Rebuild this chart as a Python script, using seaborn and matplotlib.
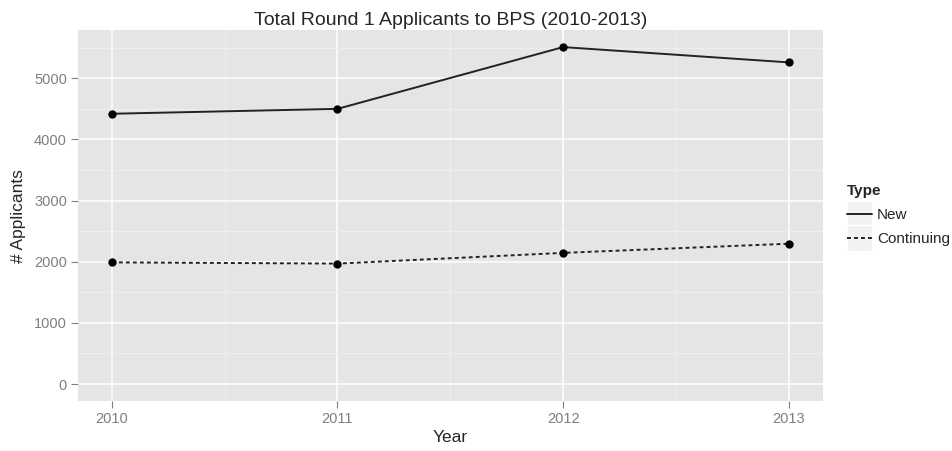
import pandas as pd
import seaborn as sns
import matplotlib.pyplot as plt
from matplotlib.lines import Line2D
from matplotlib.patches import Rectangle
from matplotlib.legend_handler import HandlerLine2D
from matplotlib.ticker import MultipleLocator

years = [2010, 2011, 2012, 2013]
new_applicants = [4420, 4500, 5510, 5260]
continuing_applicants = [1990, 1970, 2145, 2295]
types = ['New', 'Continuing']

df = pd.DataFrame({
    'Year': years * 2,
    'Applicants': new_applicants + continuing_applicants,
    'Type': [types[0]] * len(years) + [types[1]] * len(years),
})


class KeyHandler(HandlerLine2D):
    # grey key box behind the line, ggplot style
    def create_artists(self, legend, orig_handle, xdescent, ydescent, width, height, fontsize, trans):
        extra = 0.5 * fontsize
        box = Rectangle((-xdescent, -ydescent - extra), width, height + ydescent + 2 * extra,
                        facecolor='#F2F2F2', edgecolor='white', linewidth=1, transform=trans)
        arts = super().create_artists(legend, orig_handle, xdescent, ydescent,
                                      width, height, fontsize, trans)
        return [box] + list(arts)


sns.set_theme(style='darkgrid')
plt.rcParams['font.family'] = ['Liberation Sans', 'DejaVu Sans']

fig = plt.figure(figsize=(9.52, 4.51), dpi=100)
ax = fig.add_axes([0.082, 0.111, 0.782, 0.822])
ax.set_facecolor('#E5E5E5')

sns.lineplot(data=df, x='Year', y='Applicants', style='Type', style_order=types,
             dashes={'New': '', 'Continuing': (2, 1.6)}, color='#222222',
             linewidth=1.4, legend=False, ax=ax)
sns.scatterplot(data=df, x='Year', y='Applicants', color='black', s=36,
                edgecolor='black', linewidth=0, legend=False, ax=ax, zorder=5)

ax.set_xlim(2010 - 0.15, 2013 + 0.15)
ax.set_ylim(-276, 5786)
ax.set_xticks(years)
ax.set_xticklabels([str(y) for y in years])
ax.set_yticks(range(0, 6000, 1000))
ax.xaxis.set_minor_locator(MultipleLocator(0.5))
ax.yaxis.set_minor_locator(MultipleLocator(500))
ax.grid(which='major', color='white', linewidth=1.1)
ax.grid(which='minor', color='#F0F0F0', linewidth=0.6)
ax.set_axisbelow(True)
for sp in ax.spines.values():
    sp.set_visible(False)

ax.tick_params(which='major', axis='both', length=5, width=0.8, color='#7F7F7F',
               labelcolor='#7F7F7F', labelsize=10.5, pad=3, bottom=True, left=True)
ax.tick_params(which='minor', length=0)

ax.set_xlabel('Year', fontsize=12.5, labelpad=3)
ax.set_ylabel('# Applicants', fontsize=12.5, labelpad=6)
ax.set_title('Total Round 1 Applicants to BPS (2010-2013)', fontsize=14, pad=4)

handles = [Line2D([], [], color='#222222', linewidth=1.4, linestyle='-'),
           Line2D([], [], color='#222222', linewidth=1.4, linestyle=(0, (2, 1.6)))]
leg = fig.legend(handles, types, title='Type', loc='center left',
                 bbox_to_anchor=(841 / 952, 0.523), bbox_transform=fig.transFigure,
                 frameon=False, fontsize=11,
                 handler_map={Line2D: KeyHandler()},
                 handlelength=1.64, handleheight=0.7, handletextpad=0.33,
                 labelspacing=0.65, borderaxespad=0, alignment='left')
leg.get_title().set_fontweight('bold')
leg.get_title().set_fontsize(11)

fig.savefig('out.png', dpi=100)
